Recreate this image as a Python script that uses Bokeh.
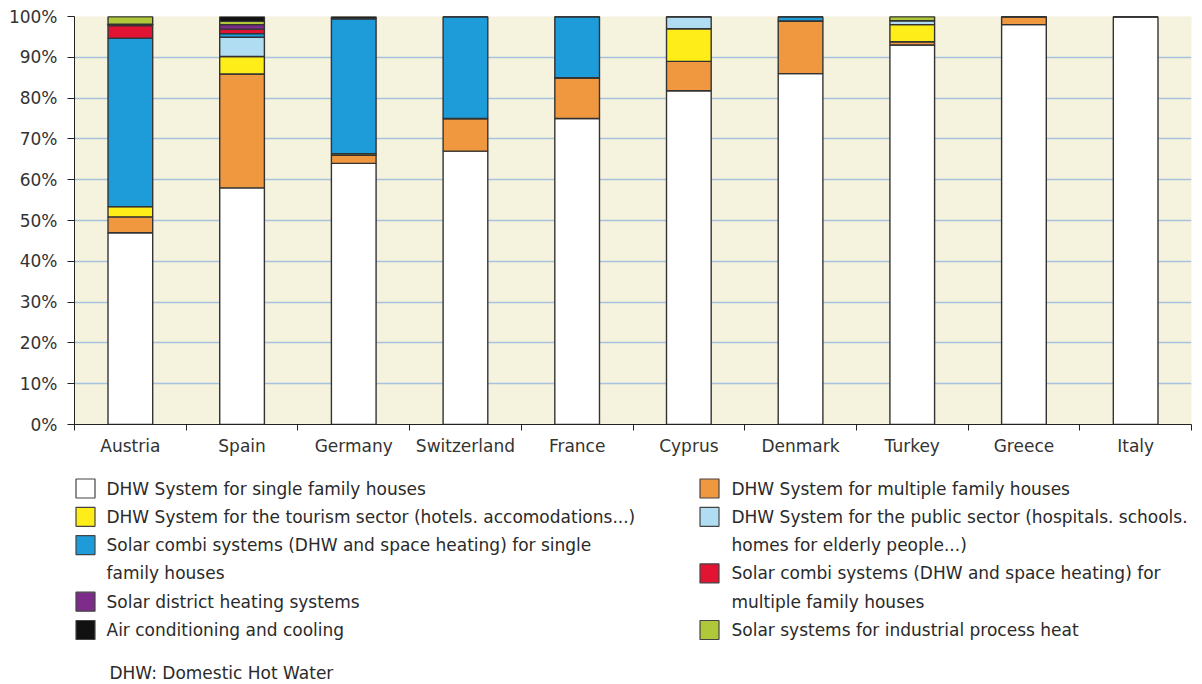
from bokeh.plotting import figure
from bokeh.layouts import column
from bokeh.models import FixedTicker, PrintfTickFormatter, Range1d, ColumnDataSource
from bokeh.core.properties import value
from bokeh.embed import file_html
from bokeh.resources import INLINE

# ---------------- data ----------------
countries = ["Austria", "Spain", "Germany", "Switzerland", "France",
             "Cyprus", "Denmark", "Turkey", "Greece", "Italy"]

single_family    = [47.0, 58.0, 64.0, 67.0, 75.0, 81.8, 86.0, 93.0, 98.0, 100.0]
multiple_family  = [3.9, 27.9, 2.0, 8.0, 10.0, 7.2, 12.9, 0.8, 2.0, 0.0]
tourism          = [2.5, 4.3, 0.4, 0.0, 0.0, 8.0, 0.0, 4.2, 0.0, 0.0]
public_sector    = [0.0, 4.7, 0.0, 0.0, 0.0, 3.0, 0.0, 1.0, 0.0, 0.0]
combi_single     = [41.3, 0.9, 33.1, 25.0, 15.0, 0.0, 1.1, 0.0, 0.0, 0.0]
combi_multiple   = [3.1, 1.1, 0.0, 0.0, 0.0, 0.0, 0.0, 0.0, 0.0, 0.0]
district_heating = [0.3, 1.1, 0.0, 0.0, 0.0, 0.0, 0.0, 0.0, 0.0, 0.0]
industrial_heat  = [1.9, 0.8, 0.0, 0.0, 0.0, 0.0, 0.0, 1.0, 0.0, 0.0]
air_conditioning = [0.0, 1.2, 0.5, 0.0, 0.0, 0.0, 0.0, 0.0, 0.0, 0.0]

series_keys = ["single_family", "multiple_family", "tourism", "public_sector",
               "combi_single", "combi_multiple", "district_heating",
               "industrial_heat", "air_conditioning"]
series_values = [single_family, multiple_family, tourism, public_sector,
                 combi_single, combi_multiple, district_heating,
                 industrial_heat, air_conditioning]
series_colors = ["#FFFFFF", "#F0983F", "#FEED18", "#B1DDF3", "#1E9BD9",
                 "#E11434", "#7E2C8B", "#AEC83A", "#111111"]
series_labels = [
    "DHW System for single family houses",
    "DHW System for multiple family houses",
    "DHW System for the tourism sector (hotels. accomodations...)",
    "DHW System for the public sector (hospitals. schools.\nhomes for elderly people...)",
    "Solar combi systems (DHW and space heating) for single\nfamily houses",
    "Solar combi systems (DHW and space heating) for\nmultiple family houses",
    "Solar district heating systems",
    "Solar systems for industrial process heat",
    "Air conditioning and cooling",
]
footnote = "DHW: Domestic Hot Water"
y_ticks = [0, 10, 20, 30, 40, 50, 60, 70, 80, 90, 100]

FONT = "DejaVu Sans"
TEXT_COLOR = "#2a2a2a"
W = 1200
BL, BR = 74, 9          # frame borders shared by both figures

# ---------------- chart ----------------
xs = [i + 0.5 for i in range(len(countries))]
data = {"x": xs}
for k, v in zip(series_keys, series_values):
    data[k] = v
source = ColumnDataSource(data)

p = figure(width=W, height=470, x_range=Range1d(0, len(countries)),
           y_range=Range1d(0, 100), toolbar_location=None,
           output_backend="svg", min_border_left=BL, min_border_right=BR,
           min_border_top=16, min_border_bottom=46)
p.background_fill_color = "#F5F2DD"
p.border_fill_color = "white"
p.outline_line_color = None

p.vbar_stack(series_keys, x="x", width=0.4, source=source,
             fill_color=series_colors, line_color="#333333", line_width=1.4)

# y axis
p.yaxis.ticker = FixedTicker(ticks=y_ticks)
p.yaxis.formatter = PrintfTickFormatter(format="%d%%")
p.yaxis.major_tick_out = 7
p.yaxis.major_tick_in = 0
p.yaxis.minor_tick_out = 0
p.yaxis.minor_tick_in = 0
p.yaxis.major_label_standoff = 10
p.yaxis.axis_line_color = "#222222"
p.yaxis.major_tick_line_color = "#222222"

# x axis: labels at centres, ticks at category boundaries
p.xaxis.ticker = FixedTicker(ticks=xs, minor_ticks=list(range(len(countries) + 1)))
p.xaxis.major_label_overrides = {x: c for x, c in zip(xs, countries)}
p.xaxis.major_tick_out = 0
p.xaxis.major_tick_in = 0
p.xaxis.minor_tick_out = 6
p.xaxis.minor_tick_in = 0
p.xaxis.major_label_standoff = 5
p.xaxis.axis_line_color = "#222222"
p.xaxis.minor_tick_line_color = "#222222"

for ax in (p.xaxis, p.yaxis):
    ax.major_label_text_font = FONT
    ax.major_label_text_font_size = "17px"
    ax.major_label_text_color = "#333333"

p.xgrid.grid_line_color = None
p.ygrid.grid_line_color = "#A7C3E0"
p.ygrid.grid_line_width = 1.5

# ---------------- legend (data units = page pixels) ----------------
LH = 212
TOP = 470
lg = figure(width=W, height=LH, x_range=Range1d(BL, W - BR),
            y_range=Range1d(TOP + LH, TOP),
            toolbar_location=None, output_backend="svg",
            min_border_left=BL, min_border_right=BR,
            min_border_top=0, min_border_bottom=0,
            x_axis_location=None, y_axis_location=None)
lg.grid.visible = False
lg.outline_line_color = None
lg.background_fill_color = "white"
lg.border_fill_color = "white"

row0, row_h = 488, 28.3
col_sq = [85, 709]
col_tx = [106, 731]
sq_x, sq_y, sq_c = [], [], []
tx_x, tx_y, tx_t = [], [], []
rows_used = [0, 0]
for i, (lab, col) in enumerate(zip(series_labels, series_colors)):
    c = i % 2
    r = rows_used[c]
    lines = lab.split("\n")
    sq_x.append(col_sq[c]); sq_y.append(row0 + r * row_h); sq_c.append(col)
    for j, line in enumerate(lines):
        tx_x.append(col_tx[c]); tx_y.append(row0 + (r + j) * row_h); tx_t.append(line)
    rows_used[c] += len(lines)

lg.rect(x=sq_x, y=sq_y, width=19, height=19, fill_color=sq_c,
        line_color="#444444", line_width=1.2)
lg.text(x=tx_x, y=tx_y, text=tx_t, text_font=value(FONT), text_font_size="17px",
        text_color=TEXT_COLOR, text_baseline="middle", text_align="left")
lg.text(x=[109], y=[672], text=[footnote], text_font=value(FONT),
        text_font_size="17px", text_color=TEXT_COLOR,
        text_baseline="middle", text_align="left")

layout = column(p, lg, spacing=0)
open("out.html", "w").write(file_html(layout, INLINE))
